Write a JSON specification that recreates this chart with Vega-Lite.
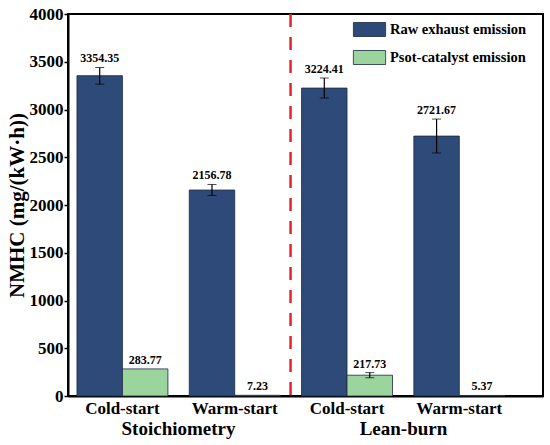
{
  "$schema": "https://vega.github.io/schema/vega-lite/v6.json",
  "autosize": {"type": "none"},
  "padding": {"left": 68, "top": 14, "right": 7, "bottom": 49},
  "width": 475,
  "height": 382,
  "background": "white",
  "data": {
    "values": [
      {"key": "S Cold-start", "group": "Stoichiometry", "series": "Raw exhaust emission", "value": 3354.35, "lo": 3265, "hi": 3440, "label": "3354.35"},
      {"key": "S Cold-start", "group": "Stoichiometry", "series": "Psot-catalyst emission", "value": 283.77, "lo": 283.77, "hi": 283.77, "label": "283.77"},
      {"key": "S Warm-start", "group": "Stoichiometry", "series": "Raw exhaust emission", "value": 2156.78, "lo": 2100, "hi": 2215, "label": "2156.78"},
      {"key": "S Warm-start", "group": "Stoichiometry", "series": "Psot-catalyst emission", "value": 7.23, "lo": 7.23, "hi": 7.23, "label": "7.23"},
      {"key": "L Cold-start", "group": "Lean-burn", "series": "Raw exhaust emission", "value": 3224.41, "lo": 3120, "hi": 3330, "label": "3224.41"},
      {"key": "L Cold-start", "group": "Lean-burn", "series": "Psot-catalyst emission", "value": 217.73, "lo": 191, "hi": 245, "label": "217.73"},
      {"key": "L Warm-start", "group": "Lean-burn", "series": "Raw exhaust emission", "value": 2721.67, "lo": 2545, "hi": 2900, "label": "2721.67"},
      {"key": "L Warm-start", "group": "Lean-burn", "series": "Psot-catalyst emission", "value": 5.37, "lo": 5.37, "hi": 5.37, "label": "5.37"}
    ]
  },
  "layer": [
    {
      "encoding": {
        "x": {
          "field": "key",
          "type": "nominal",
          "scale": {
            "domain": ["S Cold-start", "S Warm-start", "L Cold-start", "L Warm-start"],
            "paddingInner": 0.19,
            "paddingOuter": 0.21,
            "align": 0.19
          },
          "axis": {
            "title": null,
            "orient": "bottom",
            "labelExpr": "slice(datum.value, 2)",
            "labelAngle": 0,
            "labelFontSize": 17,
            "labelPadding": 4,
            "ticks": false,
            "domainColor": "black",
            "domainWidth": 2
          }
        }
      },
      "layer": [
        {
          "mark": {"type": "bar", "stroke": "#1c2a40", "strokeWidth": 0.8},
          "encoding": {
            "xOffset": {
              "field": "series",
              "type": "nominal",
              "scale": {"domain": ["Raw exhaust emission", "Psot-catalyst emission"], "paddingInner": 0}
            },
            "y": {
              "field": "value",
              "type": "quantitative",
              "title": "NMHC (mg/(kW·h))",
              "scale": {"domain": [0, 4000], "nice": false},
              "axis": {
                "format": "d",
                "values": [0, 500, 1000, 1500, 2000, 2500, 3000, 3500, 4000],
                "grid": false,
                "labelFontSize": 17,
                "titleFontSize": 21,
                "titlePadding": 2,
                "tickSize": 4,
                "tickColor": "black",
                "tickWidth": 1.5,
                "domainColor": "black",
                "domainWidth": 2,
                "labelPadding": 1
              }
            },
            "color": {
              "field": "series",
              "type": "nominal",
              "scale": {
                "domain": ["Raw exhaust emission", "Psot-catalyst emission"],
                "range": ["#2e4a78", "#9bd49c"]
              },
              "legend": {
                "title": null,
                "orient": "none",
                "legendX": 294,
                "legendY": 8,
                "symbolType": "M-2.3,-1H2.3V1H-2.3Z",
                "symbolSize": 196,
                "symbolStrokeColor": "#1c2a40",
                "symbolStrokeWidth": 0.8,
                "symbolOpacity": 1,
                "labelFontSize": 14.5,
                "labelOffset": 13,
                "rowPadding": 9,
                "padding": 0
              }
            }
          }
        },
        {
          "transform": [{"filter": "datum.hi > datum.value"}],
          "mark": {"type": "errorbar", "ticks": {"size": 9, "color": "black", "strokeWidth": 1.2}, "rule": {"color": "black", "strokeWidth": 1.2}},
          "encoding": {
            "xOffset": {"field": "series", "type": "nominal"},
            "y": {"field": "lo", "type": "quantitative", "title": "NMHC (mg/(kW·h))"},
            "y2": {"field": "hi"}
          }
        },
        {
          "mark": {"type": "text", "baseline": "bottom", "dy": -2, "fontSize": 12, "fontWeight": "bold", "font": "Liberation Serif", "color": "black"},
          "encoding": {
            "xOffset": {"field": "series", "type": "nominal"},
            "y": {"field": "hi", "type": "quantitative", "title": "NMHC (mg/(kW·h))"},
            "text": {"field": "label"}
          }
        },
        {
          "data": {"values": [{"key": "L Cold-start"}]},
          "mark": {"type": "rule", "color": "#e8232b", "strokeWidth": 2.5, "strokeDash": [13, 10], "xOffset": -11},
          "encoding": {
            "x": {"field": "key", "type": "nominal", "bandPosition": 0}
          }
        }
      ]
    },
    {
      "mark": {"type": "text", "text": ""},
      "encoding": {
        "x": {
          "field": "group",
          "type": "nominal",
          "scale": {"type": "point", "domain": ["Stoichiometry", "Lean-burn"], "padding": 0.5556, "align": 0.44},
          "axis": {
            "title": null,
            "orient": "bottom",
            "offset": 21,
            "labelPadding": 2,
            "labelAngle": 0,
            "labelFontSize": 19,
            "ticks": false,
            "domain": false
          }
        }
      }
    }
  ],
  "resolve": {"scale": {"x": "independent"}, "axis": {"x": "independent"}},
  "config": {
    "font": "Liberation Serif",
    "view": {"stroke": "black", "strokeWidth": 2},
    "axis": {
      "labelFont": "Liberation Serif",
      "titleFont": "Liberation Serif",
      "labelFontWeight": "bold",
      "titleFontWeight": "bold",
      "labelColor": "black",
      "titleColor": "black"
    },
    "legend": {
      "labelFont": "Liberation Serif",
      "labelFontWeight": "bold",
      "labelColor": "black"
    }
  }
}
